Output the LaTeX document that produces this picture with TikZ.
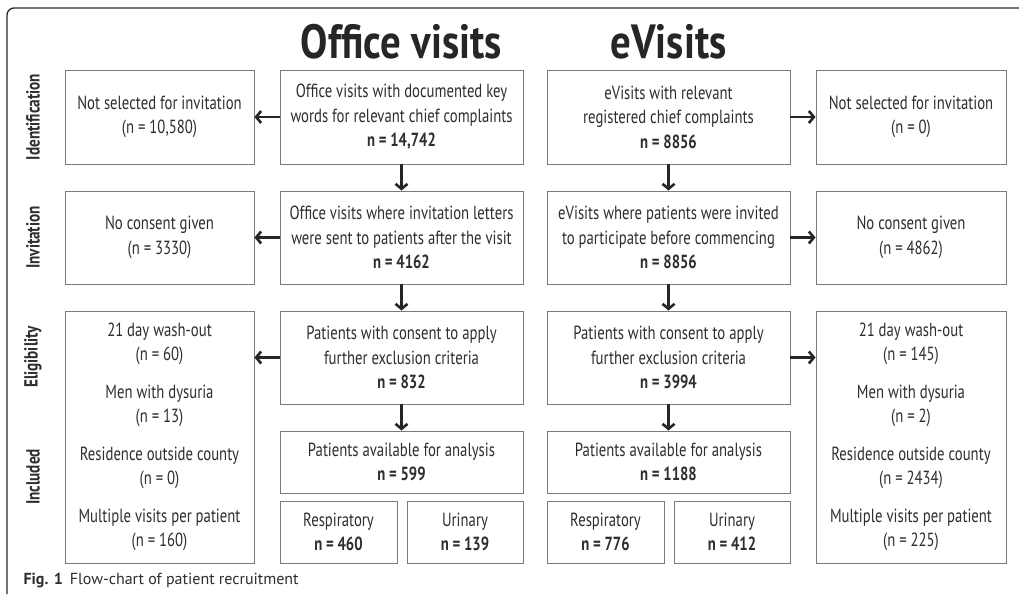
\documentclass[tikz,border=0pt]{standalone}
\usepackage{fontspec}
\setmainfont{PT Sans}
\newfontfamily\cnd[FakeStretch=0.775]{PT Sans}
\newfontfamily\sidef[FakeStretch=0.8]{PT Sans}
\newfontfamily\ttl[FakeStretch=0.85]{PT Sans}
\usetikzlibrary{arrows.meta}
\definecolor{txt}{HTML}{2E2E2E}
\definecolor{boxc}{HTML}{7A7A7A}
\definecolor{arrc}{HTML}{262626}
\definecolor{frame}{HTML}{2A2A2A}
\begin{document}
\begin{tikzpicture}[x=1pt,y=-1pt,
  box/.style={draw=boxc, line width=0.9pt, align=center, inner sep=0pt, text=txt,
    font=\cnd\fontsize{19}{24.5}\selectfont},
  side/.style={rotate=90, text=txt, font=\sidef\bfseries\fontsize{19}{22}\selectfont},
  title/.style={anchor=base, text=black!85, font=\ttl\bfseries\fontsize{48}{52}\selectfont},
  arr/.style={draw=arrc, line width=2.7pt, -{Straight Barb[length=5pt,width=12pt,line width=2.6pt]}}]
\useasboundingbox (0,0) rectangle (1019,594);
\fill[white] (0,0) rectangle (1019,594);
\draw[frame, line width=1.3pt, rounded corners=7pt] (1019,8) -- (7,8) -- (7,594);

\node[title] (tO) at (401.5,59) {Office visits};
\node[title] (tE) at (668.5,59) {eVisits};

\node[side] (s1) at (33,117) {Identification};
\node[side] (s2) at (33,237.5) {Invitation};
\node[side] (s3) at (33,357) {Eligibility};
\node[side] (s4) at (33,477) {Included};

% Identification
\node[box, minimum width=189pt, minimum height=94pt] (nsO) at (159.5,117) {Not selected for invitation\\(n = 10,580)};
\node[box, minimum width=243pt, minimum height=94pt] (idO) at (401.5,117) {Office visits with documented key\\words for relevant chief complaints\\{\bfseries n = 14,742}};
\node[box, minimum width=243pt, minimum height=94pt] (idE) at (668.5,117) {eVisits with relevant\\registered chief complaints\\{\bfseries n = 8856}};
\node[box, minimum width=190pt, minimum height=94pt] (nsE) at (911,117) {Not selected for invitation\\(n = 0)};

% Invitation
\node[box, minimum width=189pt, minimum height=93pt] (ncO) at (159.5,237.5) {No consent given\\(n = 3330)};
\node[box, minimum width=243pt, minimum height=93pt] (invO) at (401.5,237.5) {Office visits where invitation letters\\were sent to patients after the visit\\{\bfseries n = 4162}};
\node[box, minimum width=243pt, minimum height=93pt] (invE) at (668.5,237.5) {eVisits where patients were invited\\to participate before commencing\\{\bfseries n = 8856}};
\node[box, minimum width=190pt, minimum height=93pt] (ncE) at (911,237.5) {No consent given\\(n = 4862)};

% Eligibility
\node[box, minimum width=189pt, minimum height=252pt] (exO) at (159.5,437) {21 day wash-out\\(n = 60)\\[13pt]Men with dysuria\\(n = 13)\\[13pt]Residence outside county\\(n = 0)\\[13pt]Multiple visits per patient\\(n = 160)};
\node[box, minimum width=243pt, minimum height=93pt] (elO) at (401.5,357.5) {Patients with consent to apply\\further exclusion criteria\\{\bfseries n = 832}};
\node[box, minimum width=243pt, minimum height=93pt] (elE) at (668.5,357.5) {Patients with consent to apply\\further exclusion criteria\\{\bfseries n = 3994}};
\node[box, minimum width=190pt, minimum height=252pt] (exE) at (911,437) {21 day wash-out\\(n = 145)\\[13pt]Men with dysuria\\(n = 2)\\[13pt]Residence outside county\\(n = 2434)\\[13pt]Multiple visits per patient\\(n = 225)};

% Included
\node[box, minimum width=243pt, minimum height=62pt] (avO) at (401.5,462) {Patients available for analysis\\{\bfseries n = 599}};
\node[box, minimum width=243pt, minimum height=62pt] (avE) at (668.5,462) {Patients available for analysis\\{\bfseries n = 1188}};
\node[box, minimum width=117pt, minimum height=62pt] (rO) at (338.5,532) {Respiratory\\{\bfseries n = 460}};
\node[box, minimum width=116pt, minimum height=62pt] (uO) at (465,532) {Urinary\\{\bfseries n = 139}};
\node[box, minimum width=117pt, minimum height=62pt] (rE) at (605.5,532) {Respiratory\\{\bfseries n = 776}};
\node[box, minimum width=116pt, minimum height=62pt] (uE) at (732,532) {Urinary\\{\bfseries n = 412}};

% arrows
\draw[arr] (idO.west) -- (nsO.east);
\draw[arr] (invO.west) -- (ncO.east);
\draw[arr] (elO.west) -- (elO.west -| exO.east);
\draw[arr] (idE.east) -- (nsE.west);
\draw[arr] (invE.east) -- (ncE.west);
\draw[arr] (elE.east) -- (elE.east -| exE.west);
\draw[arr] (idO.south) -- (invO.north);
\draw[arr] (invO.south) -- (elO.north);
\draw[arr] (elO.south) -- (avO.north);
\draw[arr] (idE.south) -- (invE.north);
\draw[arr] (invE.south) -- (elE.north);
\draw[arr] (elE.south) -- (avE.north);

\node[anchor=base west, text=txt, font=\fontsize{16}{18}\selectfont] (cap) at (20,584) {\textbf{Fig. 1}\hspace{7pt}Flow-chart of patient recruitment};
\end{tikzpicture}
\end{document}
